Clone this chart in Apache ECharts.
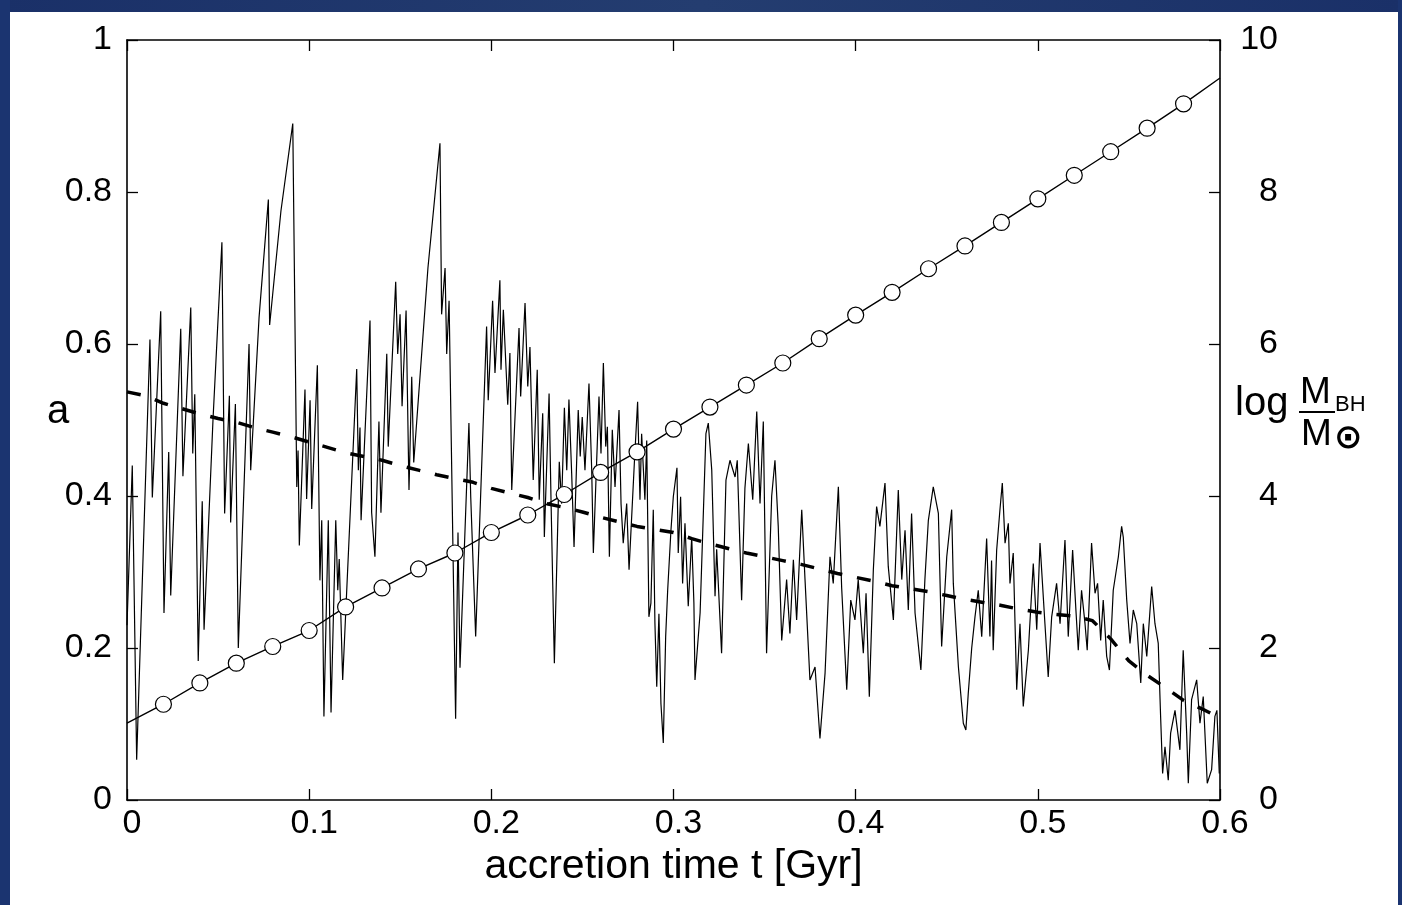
<!DOCTYPE html>
<html>
<head>
<meta charset="utf-8">
<script src="https://cdn.jsdelivr.net/npm/echarts@6/dist/echarts.min.js"></script>
<style>
html,body{margin:0;padding:0;width:1402px;height:905px;overflow:hidden;background:#ffffff;}
#bandTop{position:absolute;left:0;top:0;width:1402px;height:12px;background:linear-gradient(90deg,#1a3068 0%,#243d70 50%,#1a3068 100%);}
#bandLeft{position:absolute;left:0;top:0;width:10px;height:905px;background:#1b3470;}
#bandRight{position:absolute;right:0;top:0;width:4px;height:905px;background:#1b3470;}
#chart{position:absolute;left:0;top:0;width:1402px;height:905px;}
</style>
</head>
<body>
<div id="bandTop"></div><div id="bandLeft"></div><div id="bandRight"></div>
<div id="chart"></div>
<script>
// ---- data ----
const xTicks = [0, 0.1, 0.2, 0.3, 0.4, 0.5, 0.6];
const leftTicks = [0, 0.2, 0.4, 0.6, 0.8, 1];
const rightTicks = [0, 2, 4, 6, 8, 10];

// spin parameter a (solid thin line), [t (Gyr), a]
const spinSeries = [
[0,0.23],[0.0029,0.44],[0.0053,0.053],[0.0126,0.606],[0.0139,0.398],[0.0185,0.643],[0.0203,0.246],
[0.0229,0.458],[0.024,0.269],[0.0295,0.62],[0.0307,0.426],[0.035,0.648],[0.0361,0.456],[0.0372,0.534],
[0.0391,0.183],[0.0413,0.393],[0.0423,0.224],[0.0472,0.50],[0.0521,0.734],[0.0536,0.377],[0.0562,0.532],
[0.0569,0.365],[0.0595,0.521],[0.0611,0.2],[0.067,0.6],[0.0679,0.434],[0.0725,0.635],[0.0776,0.79],
[0.0783,0.625],[0.0845,0.775],[0.091,0.89],[0.0932,0.412],[0.0939,0.46],[0.0946,0.335],[0.0977,0.54],
[0.0986,0.396],[0.1005,0.526],[0.1014,0.383],[0.1045,0.572],[0.1059,0.289],[0.1069,0.368],[0.1081,0.11],
[0.1105,0.368],[0.112,0.115],[0.1146,0.368],[0.1157,0.276],[0.1165,0.317],[0.1184,0.158],[0.1261,0.567],
[0.127,0.434],[0.1279,0.49],[0.1285,0.368],[0.1334,0.631],[0.1343,0.378],[0.1361,0.32],[0.1383,0.498],
[0.1394,0.378],[0.1426,0.587],[0.1434,0.465],[0.1475,0.682],[0.1486,0.587],[0.1499,0.639],[0.151,0.518],
[0.1532,0.644],[0.1548,0.408],[0.1563,0.557],[0.1574,0.444],[0.1652,0.70],[0.1718,0.864],[0.1727,0.639],
[0.1746,0.7],[0.1755,0.587],[0.1768,0.657],[0.1804,0.107],[0.1817,0.352],[0.1828,0.174],[0.1877,0.496],
[0.1887,0.398],[0.1914,0.215],[0.1974,0.623],[0.1983,0.526],[0.2007,0.657],[0.202,0.562],[0.2047,0.684],
[0.2053,0.566],[0.2066,0.645],[0.209,0.52],[0.2102,0.588],[0.2112,0.408],[0.2152,0.621],[0.2161,0.531],
[0.2185,0.654],[0.22,0.544],[0.2212,0.596],[0.223,0.421],[0.2252,0.566],[0.2263,0.395],[0.2282,0.509],
[0.2291,0.346],[0.2317,0.535],[0.2328,0.39],[0.2346,0.18],[0.2373,0.445],[0.2386,0.39],[0.2401,0.516],
[0.2414,0.434],[0.2426,0.527],[0.2441,0.43],[0.2454,0.333],[0.2477,0.513],[0.2488,0.452],[0.2499,0.504],
[0.2514,0.434],[0.2536,0.548],[0.2551,0.434],[0.256,0.325],[0.2591,0.531],[0.2602,0.456],[0.2615,0.575],
[0.2628,0.465],[0.2637,0.491],[0.2648,0.32],[0.2664,0.487],[0.2679,0.412],[0.2701,0.513],[0.2712,0.39],
[0.2724,0.338],[0.2743,0.39],[0.2756,0.303],[0.2785,0.443],[0.2803,0.524],[0.2816,0.395],[0.2825,0.482],
[0.2843,0.395],[0.2853,0.473],[0.2865,0.241],[0.2876,0.259],[0.2889,0.382],[0.2898,0.233],[0.2908,0.149],
[0.292,0.245],[0.2931,0.127],[0.2944,0.075],[0.2957,0.215],[0.2968,0.276],[0.2986,0.355],[0.2999,0.399],
[0.3019,0.437],[0.3026,0.325],[0.3039,0.399],[0.305,0.285],[0.3063,0.364],[0.3081,0.255],[0.31,0.346],
[0.3112,0.259],[0.3118,0.158],[0.3146,0.246],[0.3178,0.482],[0.3191,0.496],[0.321,0.434],[0.3228,0.268],
[0.3237,0.33],[0.3264,0.193],[0.3288,0.421],[0.331,0.447],[0.3338,0.425],[0.335,0.447],[0.3374,0.263],
[0.3392,0.41],[0.3411,0.469],[0.3435,0.395],[0.3457,0.511],[0.3475,0.39],[0.3493,0.498],[0.3511,0.193],
[0.3539,0.4],[0.3557,0.447],[0.3575,0.36],[0.3594,0.21],[0.3621,0.29],[0.3639,0.219],[0.3658,0.316],
[0.3676,0.237],[0.3704,0.382],[0.3722,0.29],[0.3749,0.158],[0.3777,0.175],[0.3804,0.081],[0.3832,0.167],
[0.3859,0.32],[0.3877,0.285],[0.3905,0.412],[0.3923,0.28],[0.3951,0.145],[0.3973,0.263],[0.3996,0.237],
[0.4014,0.29],[0.4042,0.193],[0.4057,0.272],[0.4075,0.136],[0.4097,0.303],[0.4115,0.386],[0.4133,0.36],
[0.4161,0.417],[0.4179,0.307],[0.4207,0.237],[0.4234,0.408],[0.4253,0.29],[0.4271,0.355],[0.4289,0.25],
[0.4307,0.377],[0.4326,0.246],[0.4358,0.171],[0.438,0.29],[0.4399,0.368],[0.4426,0.412],[0.4454,0.377],
[0.4472,0.202],[0.45,0.32],[0.4527,0.382],[0.4536,0.285],[0.4564,0.175],[0.4591,0.101],[0.4605,0.092],
[0.4618,0.14],[0.4637,0.2],[0.4655,0.241],[0.4673,0.276],[0.4692,0.215],[0.4719,0.344],[0.4737,0.215],
[0.4746,0.315],[0.4755,0.197],[0.4774,0.329],[0.4792,0.382],[0.4805,0.417],[0.482,0.338],[0.4838,0.364],
[0.4847,0.285],[0.4865,0.325],[0.4884,0.145],[0.4902,0.232],[0.492,0.123],[0.4948,0.197],[0.4975,0.311],
[0.4994,0.224],[0.5012,0.338],[0.5039,0.232],[0.5057,0.162],[0.5076,0.241],[0.5103,0.285],[0.5122,0.232],
[0.5149,0.342],[0.5167,0.215],[0.5191,0.329],[0.5209,0.25],[0.5222,0.197],[0.524,0.276],[0.5259,0.232],
[0.5271,0.197],[0.5295,0.338],[0.5314,0.272],[0.5328,0.285],[0.5345,0.21],[0.5359,0.263],[0.5378,0.189],
[0.5393,0.171],[0.5414,0.276],[0.5442,0.32],[0.546,0.36],[0.5469,0.346],[0.5488,0.263],[0.5506,0.206],
[0.5524,0.25],[0.5543,0.232],[0.5565,0.154],[0.5579,0.232],[0.5598,0.189],[0.5625,0.281],[0.5643,0.232],
[0.5661,0.206],[0.5674,0.11],[0.5685,0.035],[0.5698,0.07],[0.5716,0.026],[0.5729,0.088],[0.5753,0.118],
[0.578,0.066],[0.5798,0.197],[0.5817,0.088],[0.5826,0.022],[0.5844,0.132],[0.5872,0.158],[0.589,0.101],
[0.5908,0.136],[0.593,0.022],[0.5954,0.04],[0.5972,0.11],[0.5983,0.118],[0.5996,0.035]
];

// dashed curve (left axis)
const avgT = [0,0.01,0.02,0.03,0.04,0.05,0.06,0.07,0.08,0.09,0.10,0.11,0.12,0.13,0.14,0.15,0.16,0.17,0.18,0.19,0.20,
  0.21,0.22,0.23,0.24,0.25,0.26,0.27,0.28,0.29,0.30,0.31,0.32,0.33,0.34,0.35,0.36,0.37,0.38,0.39,0.40,
  0.41,0.42,0.43,0.44,0.45,0.46,0.47,0.48,0.49,0.50,0.51,0.52,0.53,0.54,0.55,0.56,0.57,0.58,0.59,0.60];
const avgA = [0.537,0.532,0.522,0.515,0.508,0.502,0.497,0.490,0.484,0.478,0.471,0.464,0.457,0.452,0.447,0.440,0.434,0.428,0.423,0.418,0.410,
  0.404,0.398,0.390,0.385,0.379,0.372,0.366,0.360,0.356,0.352,0.344,0.337,0.331,0.325,0.320,0.315,0.310,0.304,0.298,0.293,
  0.288,0.282,0.278,0.274,0.269,0.264,0.260,0.256,0.251,0.247,0.244,0.242,0.236,0.212,0.183,0.164,0.148,0.131,0.120,0.108];

// log(M_BH/M_sun) (right axis), line with circles
const massT = [0,0.02,0.04,0.06,0.08,0.10,0.12,0.14,0.16,0.18,0.20,0.22,0.24,0.26,0.28,0.30,
  0.32,0.34,0.36,0.38,0.40,0.42,0.44,0.46,0.48,0.50,0.52,0.54,0.56,0.58,0.60];
const massLogM = [1.01,1.26,1.54,1.80,2.02,2.23,2.54,2.79,3.04,3.25,3.52,3.75,4.02,4.31,4.58,4.88,
  5.17,5.46,5.75,6.07,6.38,6.68,6.99,7.29,7.60,7.91,8.22,8.53,8.84,9.16,9.50];

const FONT = '"Liberation Sans", Arial, Helvetica, sans-serif';

const chart = echarts.init(document.getElementById('chart'), null, {renderer: 'canvas'});

const avgData = avgT.map((t, i) => [t, avgA[i]]);
const massData = massT.map((t, i) => ({
  value: [t, massLogM[i]],
  symbol: (i === 0 || i === massT.length - 1) ? 'none' : 'circle'
}));

const axisLineStyle = {color: '#000', width: 1.6};
const tickStyle = {show: true, inside: true, length: 11, lineStyle: {color: '#000', width: 1.3}};

chart.setOption({
  animation: false,
  backgroundColor: 'transparent',
  grid: {left: 127, right: 182, top: 40, bottom: 105, containLabel: false},
  xAxis: [{
    type: 'value', position: 'bottom', min: 0, max: 0.6, interval: 0.1,
    axisLine: {show: true, onZero: false, lineStyle: axisLineStyle},
    axisTick: tickStyle,
    axisLabel: {show: true, color: '#000', fontSize: 34, fontFamily: FONT, margin: 7,
      padding: [0, 0, 0, 10],
      formatter: v => String(+v.toFixed(1))},
    splitLine: {show: false},
    name: 'accretion time t [Gyr]', nameLocation: 'middle', nameGap: 36,
    nameTextStyle: {color: '#000', fontSize: 41, fontFamily: FONT}
  }, {
    type: 'value', position: 'top', min: 0, max: 0.6, interval: 0.1,
    axisLine: {show: true, onZero: false, lineStyle: axisLineStyle},
    axisTick: tickStyle,
    axisLabel: {show: false}, splitLine: {show: false}
  }],
  yAxis: [{
    type: 'value', position: 'left', min: 0, max: 1, interval: 0.2,
    axisLine: {show: true, onZero: false, lineStyle: axisLineStyle},
    axisTick: tickStyle,
    axisLabel: {show: true, color: '#000', fontSize: 34, fontFamily: FONT, margin: 15,
      formatter: v => String(+v.toFixed(1))},
    splitLine: {show: false}
  }, {
    type: 'value', position: 'right', min: 0, max: 10, interval: 2,
    axisLine: {show: true, onZero: false, lineStyle: axisLineStyle},
    axisTick: tickStyle,
    axisLabel: {show: true, color: '#000', fontSize: 34, fontFamily: FONT, margin: 58, align: 'right'},
    splitLine: {show: false}
  }],
  series: [{
    name: 'spin', type: 'line', xAxisIndex: 0, yAxisIndex: 0,
    data: spinSeries, showSymbol: false, symbol: 'none',
    lineStyle: {color: '#000', width: 1.2}, z: 2
  }, {
    name: 'spin (dashed)', type: 'line', xAxisIndex: 0, yAxisIndex: 0,
    data: avgData, showSymbol: false, symbol: 'none',
    lineStyle: {color: '#000', width: 3.5, type: [14, 15]}, z: 3
  }, {
    name: 'log M', type: 'line', xAxisIndex: 0, yAxisIndex: 1,
    data: massData, symbol: 'circle', symbolSize: 16, showSymbol: true,
    itemStyle: {color: '#ffffff', borderColor: '#000', borderWidth: 1.2},
    lineStyle: {color: '#000', width: 1.4}, z: 4
  }],
  graphic: [
    {type: 'text', left: 47, top: 392, style: {text: 'a', font: '40px ' + FONT, fill: '#000'}},
    {type: 'text', left: 1235, top: 384, style: {text: 'log', font: '40px ' + FONT, fill: '#000'}},
    {type: 'text', left: 1300, top: 374, style: {text: 'M', font: '37px ' + FONT, fill: '#000'}},
    {type: 'rect', shape: {x: 1299, y: 411, width: 36, height: 2}, style: {fill: '#000'}},
    {type: 'text', left: 1301, top: 416, style: {text: 'M', font: '37px ' + FONT, fill: '#000'}},
    {type: 'text', left: 1335, top: 394, style: {text: 'BH', font: '22px ' + FONT, fill: '#000'}},
    {type: 'text', left: 1334, top: 422, style: {text: '\u2299', font: 'bold 34px "DejaVu Sans"', fill: '#000'}}
  ]
});
</script>
</body>
</html>
